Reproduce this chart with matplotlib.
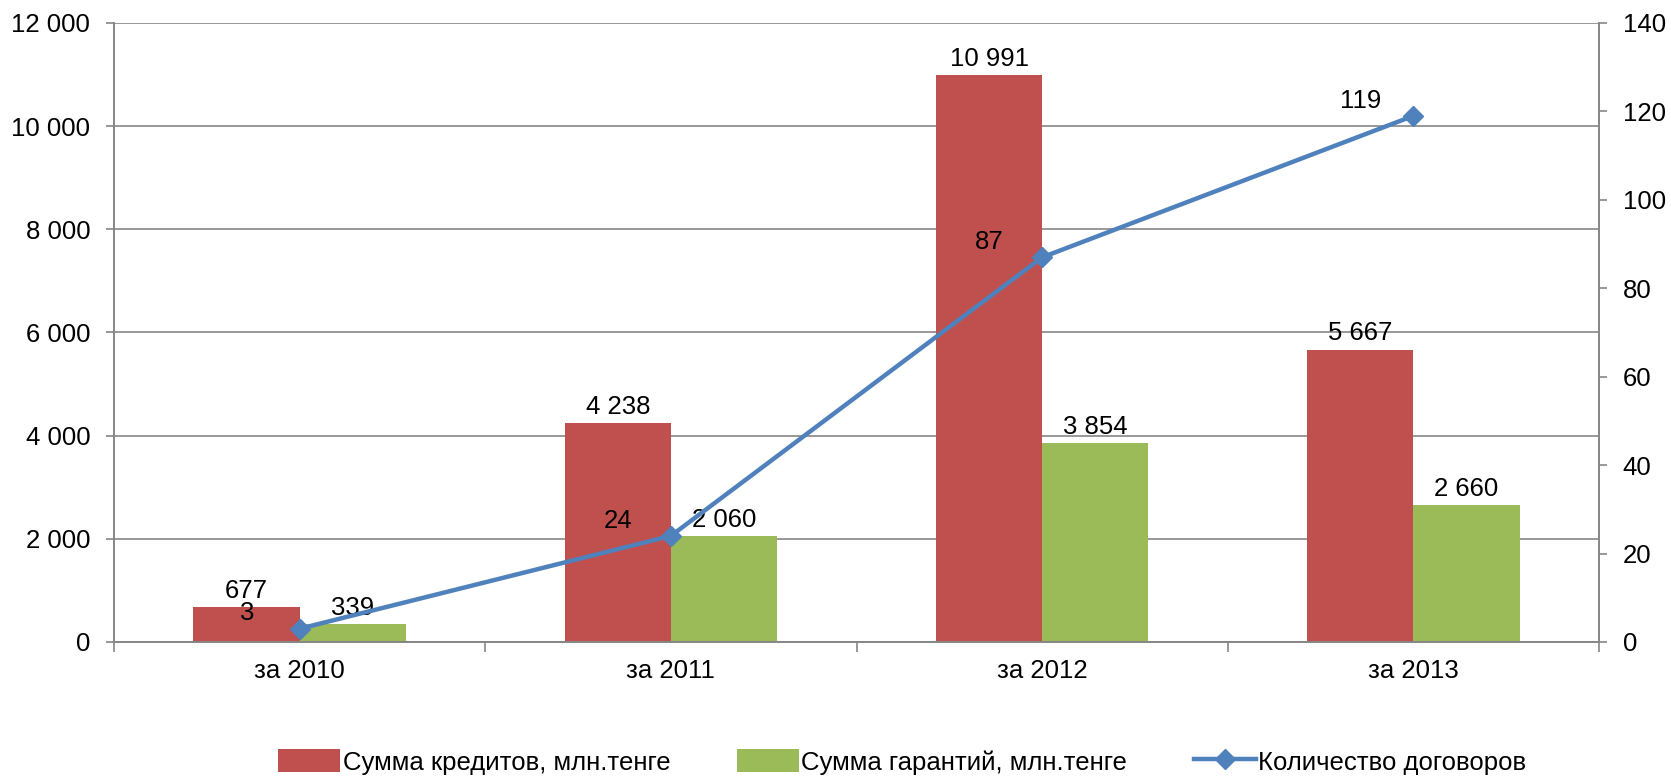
import matplotlib
matplotlib.use("Agg")
import matplotlib.pyplot as plt
import numpy as np
from matplotlib.ticker import FuncFormatter, FixedLocator

plt.rcParams['font.family'] = ['Liberation Sans', 'DejaVu Sans']

# data
categories = ["за 2010", "за 2011", "за 2012", "за 2013"]
credits = [677, 4238, 10991, 5667]
guarantees = [339, 2060, 3854, 2660]
contracts = [3, 24, 87, 119]

red = "#C0504D"
green = "#9BBB59"
blue = "#4F81BD"
grey = "#868686"
fs = 18.5

def space_fmt(v, pos=None):
    return f"{int(round(v)):,}".replace(",", " ")

fig = plt.figure(figsize=(16.71, 7.79), dpi=100)
ax = fig.add_axes([0.0682, 0.1759, 0.957 - 0.0682, 0.9705 - 0.1759])
ax2 = ax.twinx()

x = np.arange(len(categories))
w = 0.286
b1 = ax.bar(x - w / 2, credits, w, color=red, label="Сумма кредитов, млн.тенге", zorder=2)
b2 = ax.bar(x + w / 2, guarantees, w, color=green, label="Сумма гарантий, млн.тенге", zorder=2)

for rect, v in zip(b1, credits):
    ax.annotate(space_fmt(v), (rect.get_x() + rect.get_width() / 2, v), xytext=(0, 3),
                textcoords="offset points", ha="center", va="bottom", fontsize=fs)
for rect, v in zip(b2, guarantees):
    ax.annotate(space_fmt(v), (rect.get_x() + rect.get_width() / 2, v), xytext=(0, 3),
                textcoords="offset points", ha="center", va="bottom", fontsize=fs)

ax.set_xlim(-0.5, len(categories) - 0.5)
ax.set_ylim(0, 12000)
ax.set_yticks(np.arange(0, 12001, 2000))
ax.yaxis.set_major_formatter(FuncFormatter(space_fmt))
ax.grid(axis="y", color=grey, linewidth=1.2, zorder=0)
ax.set_axisbelow(True)

ax.set_xticks(x)
ax.set_xticklabels(categories, fontsize=fs)
ax.xaxis.set_minor_locator(FixedLocator(np.arange(-0.5, len(categories), 1.0)))
ax.tick_params(axis="x", which="major", length=0, pad=12)
ax.tick_params(axis="x", which="minor", length=7, color=grey, width=1.2)
ax.tick_params(axis="y", labelsize=fs, length=6, color=grey, width=1.2, pad=11)

ax2.plot(x, contracts, color=blue, linewidth=3.2, marker="D", markersize=10,
         label="Количество договоров", zorder=3)
for xi, v in zip(x, contracts):
    ax2.annotate(str(v), (xi, v), xytext=(-38, 11), textcoords="offset points",
                 ha="center", va="center", fontsize=fs)
ax2.set_ylim(0, 140)
ax2.set_yticks(np.arange(0, 141, 20))
ax2.tick_params(axis="y", labelsize=fs, length=6, color=grey, width=1.2, pad=11)

for a in (ax, ax2):
    for s in a.spines.values():
        s.set_color(grey)
        s.set_linewidth(1.2)
    a.spines["top"].set_visible(False)

h1, l1 = ax.get_legend_handles_labels()
h2, l2 = ax2.get_legend_handles_labels()
fig.legend(h1 + h2, l1 + l2, loc="center", bbox_to_anchor=(0.54, 0.022), ncol=3,
           frameon=False, fontsize=fs, handlelength=2.4, handleheight=1.0,
           handletextpad=0.1, columnspacing=2.6)

plt.savefig("out.png", dpi=100)
